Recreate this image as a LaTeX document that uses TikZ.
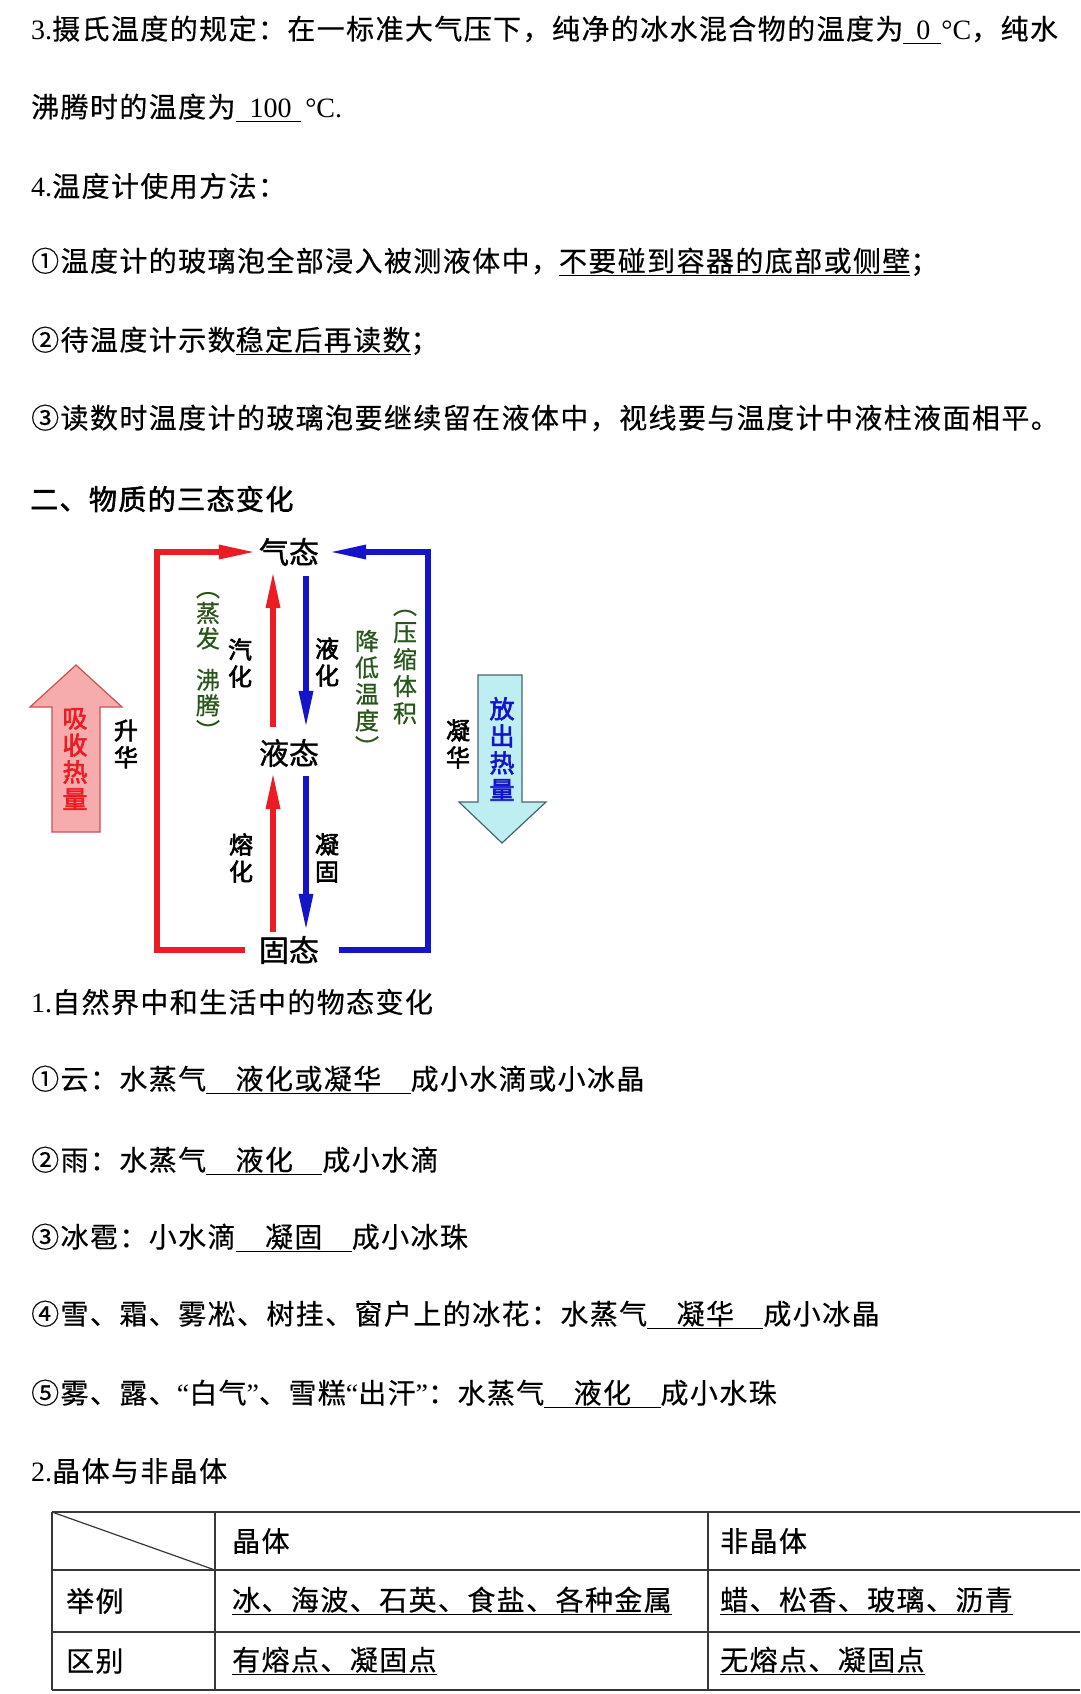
\documentclass[tikz,border=0pt]{standalone}
\usepackage{fontspec}
\setmainfont{Liberation Serif}
\newfontfamily\hei{Noto Sans CJK SC}[LetterSpace=5,FakeBold=0.4]
\newfontfamily\heib{Noto Sans CJK SC}[LetterSpace=5,FakeBold=2]
\newfontfamily\heiplain{Noto Sans CJK SC}[FakeBold=2.5]
\newfontfamily\heistate{Noto Sans CJK SC}[FakeBold=1.2]
\newfontfamily\heinote{Noto Sans CJK SC}[FakeBold=0.6]
\newfontfamily\tm{Liberation Serif}
\usetikzlibrary{arrows.meta}
\definecolor{phred}{RGB}{236,28,36}
\definecolor{phblue}{RGB}{20,20,200}
\definecolor{noteg}{RGB}{40,85,25}
\definecolor{pinkfill}{RGB}{246,172,172}
\definecolor{pinkline}{RGB}{205,80,80}
\definecolor{cyanfill}{RGB}{190,238,242}
\definecolor{cyanline}{RGB}{70,100,110}
\definecolor{tabline}{RGB}{55,55,55}
\newcommand\body{\hei\fontsize{28}{34}\selectfont}
\newcommand\ul[1]{\setbox0=\hbox{#1}\rlap{\rule[-5pt]{\wd0}{1.6pt}}\box0}
\newcommand\gap[1]{\ul{\hspace{1.05em}#1\hspace{1.05em}}}
\tikzset{
  txt/.style={anchor=west,inner sep=0pt,font=\body},
  state/.style={inner xsep=2pt,inner ysep=4pt,font=\heistate\fontsize{30}{30}\selectfont},
  vlabel/.style={align=center,inner sep=0pt,font=\heiplain\fontsize{24}{27}\selectfont},
  note/.style={align=center,inner sep=0pt,text=noteg},
  heat/.style={align=center,inner sep=0pt,font=\heiplain\fontsize{25}{27}\selectfont},
  redarr/.style={line width=6pt,draw=phred,-{Triangle[length=38pt,width=13pt]}},
  bluearr/.style={line width=6pt,draw=phblue,-{Triangle[length=38pt,width=13pt]}},
  tabrule/.style={line width=1.8pt,draw=tabline}
}
\begin{document}
\begin{tikzpicture}[x=1pt,y=-1pt]
\useasboundingbox (0,0) rectangle (1080,1694);
\fill[white] (0,0) rectangle (1080,1694);

\node[txt] (line1) at (31,30) {{\tm 3.}摄氏温度的规定：在一标准大气压下，纯净的冰水混合物的温度为\ul{\hspace{13pt}{\tm 0}\hspace{11pt}}{\tm °C}，纯水};
\node[txt] (line2) at (31,108) {沸腾时的温度为\ul{\hspace{14pt}{\tm 100}\hspace{9pt}}{\tm\,°C.}};
\node[txt] (line3) at (31,186) {{\tm 4.}温度计使用方法：};
\node[txt] (use1) at (31,262) {①温度计的玻璃泡全部浸入被测液体中，\ul{不要碰到容器的底部或侧壁}；};
\node[txt] (use2) at (31,341) {②待温度计示数\ul{稳定后再读数}；};
\node[txt] (use3) at (31,418) {③读数时温度计的玻璃泡要继续留在液体中，视线要与温度计中液柱液面相平。};
\node[txt,font=\heib\fontsize{28}{34}\selectfont] (title) at (30,499) {二、物质的三态变化};

\node[state] (gas) at (289,552) {气态};
\node[state] (liquid) at (289,753) {液态};
\node[state] (solid) at (289,950) {固态};
\coordinate (lcorner) at (157,750);
\coordinate (rcorner) at (428,750);
\draw[redarr,shorten <=12pt] (solid.west) -| (lcorner) |- (gas.west);
\draw[bluearr,shorten <=18pt,shorten >=7pt] (solid.east) -| (rcorner) |- (gas.east);
\draw[redarr,shorten <=8pt] ([xshift=-16pt]liquid.north) -- ([xshift=-16pt]gas.south);
\draw[bluearr,shorten <=6pt,shorten >=6pt] ([xshift=17pt]gas.south) -- ([xshift=17pt]liquid.north);
\draw[redarr] ([xshift=-16pt]solid.north) -- ([xshift=-16pt]liquid.south);
\draw[bluearr,shorten <=5pt] ([xshift=17pt]liquid.south) -- ([xshift=17pt]solid.north);

\node[vlabel] (vap) at (240,663) {汽\\化};
\node[note,font=\heinote\fontsize{24}{25.5}\selectfont] (vapnote) at (208,666) {︵\\蒸\\发\\[16pt]沸\\腾\\︶};
\node[vlabel] (cond) at (327,662) {液\\化};
\node[note,font=\heinote\fontsize{24}{26.5}\selectfont] (condnote) at (367,693) {降\\低\\温\\度\\︶};
\node[note,font=\heinote\fontsize{24}{27}\selectfont] (pressnote) at (405,667) {︵\\压\\缩\\体\\积};
\node[vlabel] (melt) at (241,858) {熔\\化};
\node[vlabel] (frz) at (327,858) {凝\\固};
\node[vlabel] (subl) at (126,744) {升\\华};
\node[vlabel] (depo) at (458,744) {凝\\华};

\draw[fill=pinkfill,draw=pinkline,line width=1.2pt] (76,665) -- (122,707) -- (100,707) -- (100,832) -- (52,832) -- (52,707) -- (30,707) -- cycle;
\draw[fill=cyanfill,draw=cyanline,line width=1.2pt] (478,675) -- (522,675) -- (522,802) -- (546,802) -- (502,843) -- (459,802) -- (478,802) -- cycle;
\node[heat,text=phred] (absorb) at (75,759) {吸\\收\\热\\量};
\node[heat,text=phblue] (release) at (502,749) {放\\出\\热\\量};

\node[txt] (nat) at (31,1002) {{\tm 1.}自然界中和生活中的物态变化};
\node[txt] (cloud) at (31,1080) {①云：水蒸气\gap{液化或凝华}成小水滴或小冰晶};
\node[txt] (rain) at (31,1161) {②雨：水蒸气\gap{液化}成小水滴};
\node[txt] (hail) at (31,1238) {③冰雹：小水滴\gap{凝固}成小冰珠};
\node[txt] (snow) at (31,1315) {④雪、霜、雾凇、树挂、窗户上的冰花：水蒸气\gap{凝华}成小冰晶};
\node[txt] (fog) at (31,1394) {⑤雾、露、{\tm “}白气{\tm ”}、雪糕{\tm “}出汗{\tm ”}：水蒸气\gap{液化}成小水珠};
\node[txt] (crys) at (31,1471) {{\tm 2.}晶体与非晶体};

\foreach \y in {1512,1570,1632,1690} \draw[tabrule] (52,\y) -- (1080,\y);
\foreach \x in {52,215,708} \draw[tabrule] (\x,1512) -- (\x,1690);
\draw[line width=1.2pt,draw=tabline] (52,1512) -- (215,1570);
\node[txt] (hcrys) at (232,1541) {晶体};
\node[txt] (hamor) at (720,1541) {非晶体};
\node[txt] (rex) at (66,1601) {举例};
\node[txt] (excrys) at (232,1601) {\ul{冰、海波、石英、食盐、各种金属}};
\node[txt] (examor) at (720,1601) {\ul{蜡、松香、玻璃、沥青}};
\node[txt] (rdiff) at (66,1661) {区别};
\node[txt] (dcrys) at (232,1661) {\ul{有熔点、凝固点}};
\node[txt] (damor) at (720,1661) {\ul{无熔点、凝固点}};
\end{tikzpicture}
\end{document}
